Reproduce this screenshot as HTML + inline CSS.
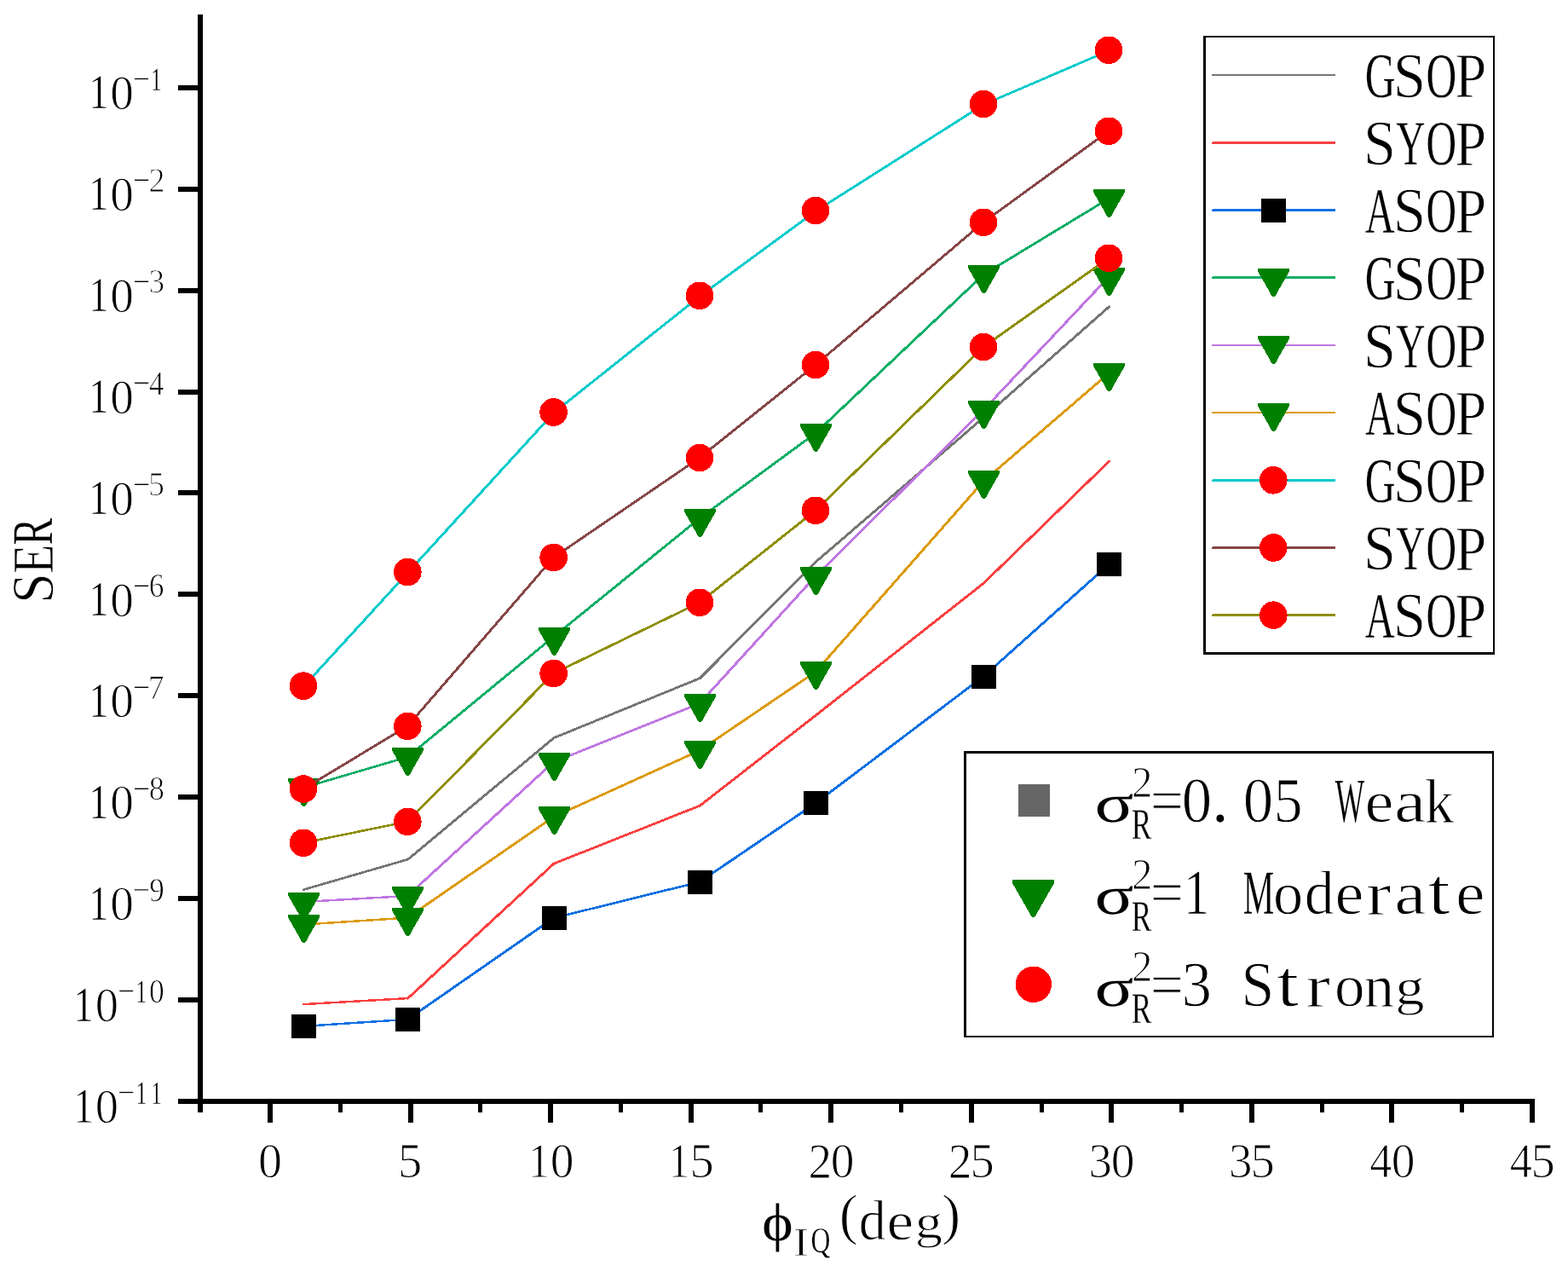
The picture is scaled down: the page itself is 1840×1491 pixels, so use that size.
<!DOCTYPE html>
<html lang="en">
<head>
<meta charset="utf-8">
<title>SER versus φIQ (deg) — GSOP, SYOP, ASOP</title>
<style>
html,body{margin:0;padding:0;background:#fff;}
body{width:1840px;height:1491px;overflow:hidden;font-family:"Liberation Serif","Noto Serif CJK SC",serif;}
svg{display:block;}
svg text{font-family:"Liberation Serif","Noto Serif CJK SC",serif;fill:#000;white-space:pre;stroke:#fff;stroke-width:0.9;stroke-linejoin:round;text-rendering:geometricPrecision;}
.ax{fill:#000;shape-rendering:crispEdges;}
.ln{fill:none;stroke-linecap:round;shape-rendering:crispEdges;}
.mk{shape-rendering:crispEdges;}
</style>
</head>
<body>
<svg width="1840" height="1491" viewBox="0 0 1840 1491" role="img" aria-label="SER versus phase imbalance chart">
<desc>SER versus φIQ(deg). Curves: GSOP, SYOP, ASOP. σR2=0.05 Weak, σR2=1 Moderate, σR2=3 Strong.</desc>
<rect width="1840" height="1491" fill="#fff"/>
<g class="ax">
<rect x="232" y="17" width="6" height="1288"/>
<rect x="209" y="1289" width="1592" height="6"/>
<rect x="209" y="100" width="24" height="6"/>
<rect x="209" y="219" width="24" height="6"/>
<rect x="209" y="338" width="24" height="6"/>
<rect x="209" y="457" width="24" height="6"/>
<rect x="209" y="575" width="24" height="6"/>
<rect x="209" y="694" width="24" height="6"/>
<rect x="209" y="813" width="24" height="6"/>
<rect x="209" y="932" width="24" height="6"/>
<rect x="209" y="1051" width="24" height="6"/>
<rect x="209" y="1170" width="24" height="6"/>
<rect x="209" y="1289" width="24" height="6"/>
<rect x="314" y="1294" width="6" height="23"/>
<rect x="479" y="1294" width="6" height="23"/>
<rect x="643" y="1294" width="6" height="23"/>
<rect x="808" y="1294" width="6" height="23"/>
<rect x="972" y="1294" width="6" height="23"/>
<rect x="1137" y="1294" width="6" height="23"/>
<rect x="1301" y="1294" width="6" height="23"/>
<rect x="1466" y="1294" width="6" height="23"/>
<rect x="1630" y="1294" width="6" height="23"/>
<rect x="1795" y="1294" width="6" height="23"/>
<rect x="397" y="1294" width="5" height="11"/>
<rect x="561" y="1294" width="5" height="11"/>
<rect x="726" y="1294" width="5" height="11"/>
<rect x="890" y="1294" width="5" height="11"/>
<rect x="1055" y="1294" width="5" height="11"/>
<rect x="1220" y="1294" width="5" height="11"/>
<rect x="1384" y="1294" width="5" height="11"/>
<rect x="1549" y="1294" width="5" height="11"/>
<rect x="1713" y="1294" width="5" height="11"/>
</g>
<g id="curves">
<g class="ln" stroke="#757575"><line x1="356.4" y1="1043.6" x2="478.7" y2="1008.1" stroke-width="2.69"/><line x1="478.7" y1="1008.1" x2="650" y2="865.6" stroke-width="2.94"/><line x1="650" y1="865.6" x2="821.4" y2="795.6" stroke-width="2.79"/><line x1="821.4" y1="795.6" x2="957.4" y2="659.1" stroke-width="2.95"/><line x1="957.4" y1="659.1" x2="1154.4" y2="489.6" stroke-width="2.94"/><line x1="1154.4" y1="489.6" x2="1301.4" y2="359.9" stroke-width="2.95"/></g>
<g class="ln" stroke="#fa4040"><line x1="356.4" y1="1178.1" x2="478.7" y2="1171.1" stroke-width="2.46"/><line x1="478.7" y1="1171.1" x2="650" y2="1013.1" stroke-width="2.95"/><line x1="650" y1="1013.1" x2="821.4" y2="945.1" stroke-width="2.78"/><line x1="821.4" y1="945.1" x2="957.4" y2="839.1" stroke-width="2.93"/><line x1="957.4" y1="839.1" x2="1154.4" y2="684.1" stroke-width="2.93"/><line x1="1154.4" y1="684.1" x2="1301.4" y2="541.3" stroke-width="2.95"/></g>
<g class="ln" stroke="#0a70e2"><line x1="356" y1="1203.9" x2="478.3" y2="1195.9" stroke-width="2.47"/><line x1="478.3" y1="1195.9" x2="649.6" y2="1077" stroke-width="2.92"/><line x1="649.6" y1="1077" x2="821" y2="1034.6" stroke-width="2.66"/><line x1="821" y1="1034.6" x2="957" y2="942.3" stroke-width="2.91"/><line x1="957" y1="942.3" x2="1154" y2="793.6" stroke-width="2.93"/><line x1="1154" y1="793.6" x2="1301" y2="662.3" stroke-width="2.95"/></g>
<g class="mk"><rect x="342" y="1190" width="29" height="28" fill="#000"/><rect x="464" y="1182" width="29" height="28" fill="#000"/><rect x="636" y="1063" width="29" height="28" fill="#000"/><rect x="807" y="1021" width="29" height="28" fill="#000"/><rect x="943" y="928" width="29" height="28" fill="#000"/><rect x="1140" y="780" width="29" height="28" fill="#000"/><rect x="1287" y="648" width="29" height="28" fill="#000"/></g>
<g class="ln" stroke="#10ae68"><line x1="356" y1="924" x2="478.3" y2="888" stroke-width="2.7"/><line x1="478.3" y1="888" x2="649.6" y2="747" stroke-width="2.94"/><line x1="649.6" y1="747" x2="821" y2="608" stroke-width="2.94"/><line x1="821" y1="608" x2="957" y2="508.2" stroke-width="2.92"/><line x1="957" y1="508.2" x2="1154" y2="322.2" stroke-width="2.95"/><line x1="1154" y1="322.2" x2="1301" y2="233" stroke-width="2.89"/></g>
<g class="mk"><path d="M338 913h37v3.2l-16.9 29.8h-3.2l-16.9 -29.8z" fill="#008000"/><path d="M460 877h37v3.2l-16.9 29.8h-3.2l-16.9 -29.8z" fill="#008000"/><path d="M632 736h37v3.2l-16.9 29.8h-3.2l-16.9 -29.8z" fill="#008000"/><path d="M803 597h37v3.2l-16.9 29.8h-3.2l-16.9 -29.8z" fill="#008000"/><path d="M939 497h37v3.2l-16.9 29.8h-3.2l-16.9 -29.8z" fill="#008000"/><path d="M1136 311h37v3.2l-16.9 29.8h-3.2l-16.9 -29.8z" fill="#008000"/><path d="M1283 222h37v3.2l-16.9 29.8h-3.2l-16.9 -29.8z" fill="#008000"/></g>
<g class="ln" stroke="#c076e2"><line x1="356" y1="1058" x2="478.3" y2="1051" stroke-width="2.46"/><line x1="478.3" y1="1051" x2="649.6" y2="894" stroke-width="2.95"/><line x1="649.6" y1="894" x2="821" y2="825.2" stroke-width="2.78"/><line x1="821" y1="825.2" x2="957" y2="676" stroke-width="2.95"/><line x1="957" y1="676" x2="1154" y2="481" stroke-width="2.95"/><line x1="1154" y1="481" x2="1301" y2="325" stroke-width="2.95"/></g>
<g class="mk"><path d="M338 1047h37v3.2l-16.9 29.8h-3.2l-16.9 -29.8z" fill="#008000"/><path d="M460 1040h37v3.2l-16.9 29.8h-3.2l-16.9 -29.8z" fill="#008000"/><path d="M632 883h37v3.2l-16.9 29.8h-3.2l-16.9 -29.8z" fill="#008000"/><path d="M803 814h37v3.2l-16.9 29.8h-3.2l-16.9 -29.8z" fill="#008000"/><path d="M939 665h37v3.2l-16.9 29.8h-3.2l-16.9 -29.8z" fill="#008000"/><path d="M1136 470h37v3.2l-16.9 29.8h-3.2l-16.9 -29.8z" fill="#008000"/><path d="M1283 314h37v3.2l-16.9 29.8h-3.2l-16.9 -29.8z" fill="#008000"/></g>
<g class="ln" stroke="#dc9a0a"><line x1="356" y1="1084.6" x2="478.3" y2="1076.6" stroke-width="2.47"/><line x1="478.3" y1="1076.6" x2="649.6" y2="958.3" stroke-width="2.91"/><line x1="649.6" y1="958.3" x2="821" y2="880.4" stroke-width="2.81"/><line x1="821" y1="880.4" x2="957" y2="788.2" stroke-width="2.91"/><line x1="957" y1="788.2" x2="1154" y2="564.6" stroke-width="2.95"/><line x1="1154" y1="564.6" x2="1301" y2="438" stroke-width="2.94"/></g>
<g class="mk"><path d="M338 1073h37v3.2l-16.9 29.8h-3.2l-16.9 -29.8z" fill="#008000"/><path d="M460 1065h37v3.2l-16.9 29.8h-3.2l-16.9 -29.8z" fill="#008000"/><path d="M632 946h37v3.2l-16.9 29.8h-3.2l-16.9 -29.8z" fill="#008000"/><path d="M803 869h37v3.2l-16.9 29.8h-3.2l-16.9 -29.8z" fill="#008000"/><path d="M939 776h37v3.2l-16.9 29.8h-3.2l-16.9 -29.8z" fill="#008000"/><path d="M1136 552h37v3.2l-16.9 29.8h-3.2l-16.9 -29.8z" fill="#008000"/><path d="M1283 426h37v3.2l-16.9 29.8h-3.2l-16.9 -29.8z" fill="#008000"/></g>
<g class="ln" stroke="#02cbcb"><line x1="356.4" y1="805.2" x2="478.7" y2="671.6" stroke-width="2.95"/><line x1="478.7" y1="671.6" x2="650" y2="484.1" stroke-width="2.95"/><line x1="650" y1="484.1" x2="821.4" y2="347.4" stroke-width="2.94"/><line x1="821.4" y1="347.4" x2="957.4" y2="247.6" stroke-width="2.92"/><line x1="957.4" y1="247.6" x2="1154.4" y2="122.6" stroke-width="2.9"/><line x1="1154.4" y1="122.6" x2="1301.4" y2="59.4" stroke-width="2.8"/></g>
<g class="mk"><circle cx="356" cy="804.6" r="16.3" fill="#f00"/><circle cx="478.3" cy="671" r="16.3" fill="#f00"/><circle cx="649.6" cy="483.5" r="16.3" fill="#f00"/><circle cx="821" cy="346.8" r="16.3" fill="#f00"/><circle cx="957" cy="247" r="16.3" fill="#f00"/><circle cx="1154" cy="122" r="16.3" fill="#f00"/><circle cx="1301" cy="58.8" r="16.3" fill="#f00"/></g>
<g class="ln" stroke="#864646"><line x1="356" y1="925.5" x2="478.3" y2="851.8" stroke-width="2.89"/><line x1="478.3" y1="851.8" x2="649.6" y2="654" stroke-width="2.94"/><line x1="649.6" y1="654" x2="821" y2="537" stroke-width="2.91"/><line x1="821" y1="537" x2="957" y2="428" stroke-width="2.94"/><line x1="957" y1="428" x2="1154" y2="260.8" stroke-width="2.94"/><line x1="1154" y1="260.8" x2="1301" y2="153.8" stroke-width="2.92"/></g>
<g class="mk"><circle cx="356" cy="925.5" r="16.3" fill="#f00"/><circle cx="478.3" cy="851.8" r="16.3" fill="#f00"/><circle cx="649.6" cy="654" r="16.3" fill="#f00"/><circle cx="821" cy="537" r="16.3" fill="#f00"/><circle cx="957" cy="428" r="16.3" fill="#f00"/><circle cx="1154" cy="260.8" r="16.3" fill="#f00"/><circle cx="1301" cy="153.8" r="16.3" fill="#f00"/></g>
<g class="ln" stroke="#8e8e00"><line x1="356" y1="988.8" x2="478.3" y2="963.8" stroke-width="2.62"/><line x1="478.3" y1="963.8" x2="649.6" y2="790" stroke-width="2.95"/><line x1="649.6" y1="790" x2="821" y2="706.8" stroke-width="2.83"/><line x1="821" y1="706.8" x2="957" y2="598.8" stroke-width="2.94"/><line x1="957" y1="598.8" x2="1154" y2="407" stroke-width="2.95"/><line x1="1154" y1="407" x2="1301" y2="302.8" stroke-width="2.92"/></g>
<g class="mk"><circle cx="356" cy="988.8" r="16.3" fill="#f00"/><circle cx="478.3" cy="963.8" r="16.3" fill="#f00"/><circle cx="649.6" cy="790" r="16.3" fill="#f00"/><circle cx="821" cy="706.8" r="16.3" fill="#f00"/><circle cx="957" cy="598.8" r="16.3" fill="#f00"/><circle cx="1154" cy="407" r="16.3" fill="#f00"/><circle cx="1301" cy="302.8" r="16.3" fill="#f00"/></g>
</g>
<g id="yticks">
<text><tspan x="104.29" y="127.31" font-size="57.38" textLength="23.29" lengthAdjust="spacingAndGlyphs" stroke-width="0.64">1</tspan><tspan x="129.27" y="127.8" font-size="56.77" textLength="27.68" lengthAdjust="spacingAndGlyphs" stroke-width="1">0</tspan><tspan x="154.26" y="100.14" font-size="31.96" textLength="23.47" lengthAdjust="spacingAndGlyphs" stroke-width="1">-</tspan><tspan x="177.34" y="105.72" font-size="38.12" textLength="12.38" lengthAdjust="spacingAndGlyphs" stroke-width="0.3">1</tspan></text>
<text><tspan x="104.29" y="246.32" font-size="57.38" textLength="23.29" lengthAdjust="spacingAndGlyphs" stroke-width="0.64">1</tspan><tspan x="129.27" y="247.23" font-size="56.72" textLength="27.67" lengthAdjust="spacingAndGlyphs" stroke-width="1">0</tspan><tspan x="154.19" y="219.4" font-size="32.73" textLength="23.62" lengthAdjust="spacingAndGlyphs" stroke-width="1">-</tspan><tspan x="174.59" y="225.02" font-size="40.57" textLength="19.08" lengthAdjust="spacingAndGlyphs" stroke-width="0.98">2</tspan></text>
<text><tspan x="104.26" y="365.02" font-size="57.37" textLength="23.36" lengthAdjust="spacingAndGlyphs" stroke-width="0.66">1</tspan><tspan x="129.27" y="365.52" font-size="56.77" textLength="27.68" lengthAdjust="spacingAndGlyphs" stroke-width="1">0</tspan><tspan x="154.27" y="337.79" font-size="32.69" textLength="23.62" lengthAdjust="spacingAndGlyphs" stroke-width="1">-</tspan><tspan x="174.38" y="342.89" font-size="39.37" textLength="18.6" lengthAdjust="spacingAndGlyphs" stroke-width="0.96">3</tspan></text>
<text><tspan x="104.3" y="484.44" font-size="57.42" textLength="23.31" lengthAdjust="spacingAndGlyphs" stroke-width="0.64">1</tspan><tspan x="129.26" y="484.82" font-size="56.78" textLength="27.66" lengthAdjust="spacingAndGlyphs" stroke-width="1">0</tspan><tspan x="154.18" y="457.1" font-size="32.69" textLength="23.63" lengthAdjust="spacingAndGlyphs" stroke-width="1">-</tspan><tspan x="174.89" y="462.57" font-size="39.52" textLength="17.34" lengthAdjust="spacingAndGlyphs" stroke-width="0.7">4</tspan></text>
<text><tspan x="104.3" y="603.23" font-size="57.42" textLength="23.31" lengthAdjust="spacingAndGlyphs" stroke-width="0.64">1</tspan><tspan x="129.26" y="603.74" font-size="56.78" textLength="27.66" lengthAdjust="spacingAndGlyphs" stroke-width="1">0</tspan><tspan x="154.18" y="575.59" font-size="32.69" textLength="23.63" lengthAdjust="spacingAndGlyphs" stroke-width="1">-</tspan><tspan x="174.1" y="581.12" font-size="39.78" textLength="19.01" lengthAdjust="spacingAndGlyphs" stroke-width="1">5</tspan></text>
<text><tspan x="104.7" y="722.12" font-size="57.51" textLength="22.64" lengthAdjust="spacingAndGlyphs" stroke-width="0.5">1</tspan><tspan x="129.36" y="722.55" font-size="56.65" textLength="27.68" lengthAdjust="spacingAndGlyphs" stroke-width="1">0</tspan><tspan x="154.18" y="694.64" font-size="32.74" textLength="23.64" lengthAdjust="spacingAndGlyphs" stroke-width="1">-</tspan><tspan x="174.85" y="700.2" font-size="39.37" textLength="17.74" lengthAdjust="spacingAndGlyphs" stroke-width="0.79">6</tspan></text>
<text><tspan x="104.7" y="840.69" font-size="57.57" textLength="22.59" lengthAdjust="spacingAndGlyphs" stroke-width="0.49">1</tspan><tspan x="129.35" y="841.31" font-size="56.58" textLength="27.71" lengthAdjust="spacingAndGlyphs" stroke-width="1">0</tspan><tspan x="154.27" y="813.64" font-size="32.69" textLength="23.62" lengthAdjust="spacingAndGlyphs" stroke-width="1">-</tspan><tspan x="173.73" y="819.87" font-size="40.64" textLength="18.76" lengthAdjust="spacingAndGlyphs" stroke-width="0.91">7</tspan></text>
<text><tspan x="104.83" y="959.63" font-size="57.42" textLength="22.4" lengthAdjust="spacingAndGlyphs" stroke-width="0.46">1</tspan><tspan x="129.35" y="960.07" font-size="56.58" textLength="27.71" lengthAdjust="spacingAndGlyphs" stroke-width="1">0</tspan><tspan x="154.15" y="932.81" font-size="32.73" textLength="23.64" lengthAdjust="spacingAndGlyphs" stroke-width="1">-</tspan><tspan x="174.8" y="937.87" font-size="39.3" textLength="18.16" lengthAdjust="spacingAndGlyphs" stroke-width="0.88">8</tspan></text>
<text><tspan x="104.78" y="1078.75" font-size="57.46" textLength="22.43" lengthAdjust="spacingAndGlyphs" stroke-width="0.46">1</tspan><tspan x="129.35" y="1079.05" font-size="56.58" textLength="27.71" lengthAdjust="spacingAndGlyphs" stroke-width="1">0</tspan><tspan x="154.09" y="1050.88" font-size="30.06" textLength="23.85" lengthAdjust="spacingAndGlyphs" stroke-width="1">-</tspan><tspan x="175.16" y="1057.31" font-size="39.23" textLength="17.55" lengthAdjust="spacingAndGlyphs" stroke-width="0.77">9</tspan></text>
<text><tspan x="86.69" y="1197.53" font-size="57.77" textLength="22.89" lengthAdjust="spacingAndGlyphs" stroke-width="0.53">1</tspan><tspan x="111.77" y="1197.99" font-size="56.49" textLength="27.32" lengthAdjust="spacingAndGlyphs" stroke-width="1">0</tspan><tspan x="136.5" y="1170.15" font-size="31.96" textLength="23.4" lengthAdjust="spacingAndGlyphs" stroke-width="1">-</tspan><tspan x="159.55" y="1175.7" font-size="37.95" textLength="12.49" lengthAdjust="spacingAndGlyphs" stroke-width="0.3">1</tspan><tspan x="174.89" y="1175.96" font-size="39.43" textLength="17.75" lengthAdjust="spacingAndGlyphs" stroke-width="0.79">0</tspan></text>
<text><tspan x="85.97" y="1316.84" font-size="58.27" textLength="24.23" lengthAdjust="spacingAndGlyphs" stroke-width="0.77">1</tspan><tspan x="111.77" y="1316.78" font-size="56.49" textLength="27.32" lengthAdjust="spacingAndGlyphs" stroke-width="1">0</tspan><tspan x="136.49" y="1288.94" font-size="31.96" textLength="23.51" lengthAdjust="spacingAndGlyphs" stroke-width="1">-</tspan><tspan x="159.55" y="1294.81" font-size="38.13" textLength="12.77" lengthAdjust="spacingAndGlyphs" stroke-width="0.3">1</tspan><tspan x="177.45" y="1294.75" font-size="38.05" textLength="12.21" lengthAdjust="spacingAndGlyphs" stroke-width="0.3">1</tspan></text>
</g>
<g id="xticks">
<text><tspan x="303.11" y="1381.1" font-size="57.15" textLength="28.08" lengthAdjust="spacingAndGlyphs" stroke-width="1">0</tspan></text>
<text><tspan x="467.03" y="1381.17" font-size="58.1" textLength="28.27" lengthAdjust="spacingAndGlyphs" stroke-width="1">5</tspan></text>
<text><tspan x="620.27" y="1381.27" font-size="57.18" textLength="24.51" lengthAdjust="spacingAndGlyphs" stroke-width="0.9">1</tspan><tspan x="645.65" y="1380.72" font-size="57.11" textLength="27.79" lengthAdjust="spacingAndGlyphs" stroke-width="1">0</tspan></text>
<text><tspan x="784.78" y="1381.34" font-size="57.18" textLength="24.44" lengthAdjust="spacingAndGlyphs" stroke-width="0.88">1</tspan><tspan x="809.44" y="1380.95" font-size="58.11" textLength="28.3" lengthAdjust="spacingAndGlyphs" stroke-width="1">5</tspan></text>
<text><tspan x="948.46" y="1381.62" font-size="58.42" textLength="27.64" lengthAdjust="spacingAndGlyphs" stroke-width="1">2</tspan><tspan x="974.65" y="1380.72" font-size="57.11" textLength="27.79" lengthAdjust="spacingAndGlyphs" stroke-width="1">0</tspan></text>
<text><tspan x="1112.86" y="1381.79" font-size="58.4" textLength="27.76" lengthAdjust="spacingAndGlyphs" stroke-width="1">2</tspan><tspan x="1138.44" y="1380.95" font-size="58.11" textLength="28.3" lengthAdjust="spacingAndGlyphs" stroke-width="1">5</tspan></text>
<text><tspan x="1277.58" y="1380.5" font-size="57.38" textLength="27.42" lengthAdjust="spacingAndGlyphs" stroke-width="1">3</tspan><tspan x="1303.65" y="1380.72" font-size="57.11" textLength="27.79" lengthAdjust="spacingAndGlyphs" stroke-width="1">0</tspan></text>
<text><tspan x="1442.06" y="1380.98" font-size="57.42" textLength="27.43" lengthAdjust="spacingAndGlyphs" stroke-width="1">3</tspan><tspan x="1467.44" y="1380.95" font-size="58.11" textLength="28.3" lengthAdjust="spacingAndGlyphs" stroke-width="1">5</tspan></text>
<text><tspan x="1607.3" y="1380.84" font-size="57.32" textLength="26.22" lengthAdjust="spacingAndGlyphs" stroke-width="1">4</tspan><tspan x="1632.65" y="1380.72" font-size="57.11" textLength="27.79" lengthAdjust="spacingAndGlyphs" stroke-width="1">0</tspan></text>
<text><tspan x="1771.86" y="1380.74" font-size="57.05" textLength="26.1" lengthAdjust="spacingAndGlyphs" stroke-width="1">4</tspan><tspan x="1796.44" y="1380.95" font-size="58.11" textLength="28.3" lengthAdjust="spacingAndGlyphs" stroke-width="1">5</tspan></text>
</g>
<g id="titles">
<text transform="rotate(-90)"><tspan x="-707.78" y="61.87" font-size="69.87" textLength="35.34" lengthAdjust="spacingAndGlyphs" stroke-width="1">S</tspan><tspan x="-673.3" y="61.68" font-size="68.78" textLength="34.61" lengthAdjust="spacingAndGlyphs" stroke-width="0.85">E</tspan><tspan x="-639.58" y="61.1" font-size="67.74" textLength="31.88" lengthAdjust="spacingAndGlyphs" stroke-width="0.3">R</tspan></text>
<text><tspan x="894.38" y="1455.18" font-size="62.82" textLength="36.39" lengthAdjust="spacingAndGlyphs" stroke-width="0">ϕ</tspan><tspan x="930.59" y="1472.67" font-size="47.6" textLength="19.02" lengthAdjust="spacingAndGlyphs" stroke-width="1">I</tspan><tspan x="951.44" y="1469" font-size="42.12" textLength="22.85" lengthAdjust="spacingAndGlyphs" stroke-width="0.3">Q</tspan><tspan x="984.78" y="1447.11" font-size="66.66" textLength="22.22" lengthAdjust="spacingAndGlyphs" stroke-width="1">(</tspan><tspan x="1007.86" y="1454.23" font-size="66.74" textLength="31.93" lengthAdjust="spacingAndGlyphs" stroke-width="1">d</tspan><tspan x="1040.51" y="1454.44" font-size="63.93" textLength="31.66" lengthAdjust="spacingAndGlyphs" stroke-width="1">e</tspan><tspan x="1073.7" y="1452.17" font-size="55.66" textLength="32.31" lengthAdjust="spacingAndGlyphs" stroke-width="1">g</tspan><tspan x="1105.01" y="1447.32" font-size="66.7" textLength="22.16" lengthAdjust="spacingAndGlyphs" stroke-width="1">)</tspan></text>
</g>
<g id="legend1">
<g class="ax"><rect x="1412" y="42" width="3" height="726"/><rect x="1412" y="42" width="342" height="2"/><rect x="1752" y="42" width="2" height="726"/><rect x="1412" y="765" width="342" height="3"/></g>
<rect x="1422" y="87" width="145" height="2" fill="#757575" shape-rendering="crispEdges"/>
<text><tspan x="1601.8" y="113.94" font-size="74.67" textLength="35.8" lengthAdjust="spacingAndGlyphs" stroke-width="0.3">G</tspan><tspan x="1634.72" y="114.04" font-size="75.24" textLength="38.43" lengthAdjust="spacingAndGlyphs" stroke-width="1">S</tspan><tspan x="1673.48" y="114.31" font-size="74.45" textLength="35.79" lengthAdjust="spacingAndGlyphs" stroke-width="0.3">O</tspan><tspan x="1707.17" y="114.38" font-size="75.02" textLength="37.19" lengthAdjust="spacingAndGlyphs" stroke-width="1">P</tspan></text>
<path d="M1423 166h144v3h-145v-2h1z" fill="#fa4040" shape-rendering="crispEdges"/>
<text><tspan x="1600.08" y="193.37" font-size="75.24" textLength="37.99" lengthAdjust="spacingAndGlyphs" stroke-width="1">S</tspan><tspan x="1638.2" y="193.22" font-size="74.2" textLength="34.09" lengthAdjust="spacingAndGlyphs" stroke-width="0.3">Y</tspan><tspan x="1673.56" y="192.9" font-size="74.41" textLength="35.7" lengthAdjust="spacingAndGlyphs" stroke-width="0.3">O</tspan><tspan x="1707.35" y="193.52" font-size="75.09" textLength="37.06" lengthAdjust="spacingAndGlyphs" stroke-width="1">P</tspan></text>
<path d="M1423 245h144v3h-145v-2h1z" fill="#0a70e2" shape-rendering="crispEdges"/>
<g class="mk"><rect x="1480" y="233" width="29" height="28" fill="#000"/></g>
<text><tspan x="1601.95" y="272.5" font-size="75.62" textLength="34.62" lengthAdjust="spacingAndGlyphs" stroke-width="0.3">A</tspan><tspan x="1634.77" y="272.21" font-size="75.21" textLength="38.46" lengthAdjust="spacingAndGlyphs" stroke-width="1">S</tspan><tspan x="1673.46" y="272.13" font-size="74.15" textLength="35.68" lengthAdjust="spacingAndGlyphs" stroke-width="0.3">O</tspan><tspan x="1707.3" y="272.5" font-size="75.17" textLength="37.09" lengthAdjust="spacingAndGlyphs" stroke-width="1">P</tspan></text>
<path d="M1423 324h144v3h-145v-2h1z" fill="#10ae68" shape-rendering="crispEdges"/>
<g class="mk"><path d="M1476 315h37v3.2l-16.9 29.8h-3.2l-16.9 -29.8z" fill="#008000"/></g>
<text><tspan x="1601.87" y="351.42" font-size="73.94" textLength="35.78" lengthAdjust="spacingAndGlyphs" stroke-width="0.3">G</tspan><tspan x="1634.68" y="351.73" font-size="75.36" textLength="38.53" lengthAdjust="spacingAndGlyphs" stroke-width="1">S</tspan><tspan x="1673.64" y="351.43" font-size="74.01" textLength="35.63" lengthAdjust="spacingAndGlyphs" stroke-width="0.3">O</tspan><tspan x="1707.35" y="351.73" font-size="75.18" textLength="37.09" lengthAdjust="spacingAndGlyphs" stroke-width="1">P</tspan></text>
<rect x="1422" y="404" width="145" height="2" fill="#c076e2" shape-rendering="crispEdges"/>
<g class="mk"><path d="M1476 394h37v3.2l-16.9 29.8h-3.2l-16.9 -29.8z" fill="#008000"/></g>
<text><tspan x="1600.01" y="430.55" font-size="75.43" textLength="38.08" lengthAdjust="spacingAndGlyphs" stroke-width="1">S</tspan><tspan x="1638.27" y="431.23" font-size="74.34" textLength="34.19" lengthAdjust="spacingAndGlyphs" stroke-width="0.3">Y</tspan><tspan x="1673.51" y="430.8" font-size="74.61" textLength="35.76" lengthAdjust="spacingAndGlyphs" stroke-width="0.3">O</tspan><tspan x="1707.21" y="430.8" font-size="74.97" textLength="37.18" lengthAdjust="spacingAndGlyphs" stroke-width="1">P</tspan></text>
<rect x="1422" y="483" width="145" height="2" fill="#dc9a0a" shape-rendering="crispEdges"/>
<g class="mk"><path d="M1476 473h37v3.2l-16.9 29.8h-3.2l-16.9 -29.8z" fill="#008000"/></g>
<text><tspan x="1602.25" y="509.67" font-size="74.65" textLength="34.15" lengthAdjust="spacingAndGlyphs" stroke-width="0.3">A</tspan><tspan x="1634.68" y="509.68" font-size="75.36" textLength="38.53" lengthAdjust="spacingAndGlyphs" stroke-width="1">S</tspan><tspan x="1673.53" y="509.79" font-size="74.41" textLength="35.72" lengthAdjust="spacingAndGlyphs" stroke-width="0.3">O</tspan><tspan x="1707.21" y="510.32" font-size="74.97" textLength="37.18" lengthAdjust="spacingAndGlyphs" stroke-width="1">P</tspan></text>
<path d="M1423 562h144v3h-145v-2h1z" fill="#02cbcb" shape-rendering="crispEdges"/>
<g class="mk"><circle cx="1494.3" cy="563.32" r="16.3" fill="#f00"/></g>
<text><tspan x="1601.87" y="588.58" font-size="74.46" textLength="35.77" lengthAdjust="spacingAndGlyphs" stroke-width="0.3">G</tspan><tspan x="1634.72" y="588.73" font-size="75.24" textLength="38.43" lengthAdjust="spacingAndGlyphs" stroke-width="1">S</tspan><tspan x="1673.52" y="589.26" font-size="74.32" textLength="35.67" lengthAdjust="spacingAndGlyphs" stroke-width="0.3">O</tspan><tspan x="1707.5" y="588.98" font-size="74.33" textLength="36.88" lengthAdjust="spacingAndGlyphs" stroke-width="1">P</tspan></text>
<path d="M1423 641h144v3h-145v-2h1z" fill="#864646" shape-rendering="crispEdges"/>
<g class="mk"><circle cx="1494.3" cy="642.49" r="16.3" fill="#f00"/></g>
<text><tspan x="1600.08" y="668.45" font-size="75.24" textLength="37.99" lengthAdjust="spacingAndGlyphs" stroke-width="1">S</tspan><tspan x="1638.2" y="668.37" font-size="74.2" textLength="34.09" lengthAdjust="spacingAndGlyphs" stroke-width="0.3">Y</tspan><tspan x="1673.48" y="668.24" font-size="74.15" textLength="35.71" lengthAdjust="spacingAndGlyphs" stroke-width="0.3">O</tspan><tspan x="1707.26" y="668.67" font-size="75" textLength="37.2" lengthAdjust="spacingAndGlyphs" stroke-width="1">P</tspan></text>
<path d="M1423 720h144v3h-145v-2h1z" fill="#8e8e00" shape-rendering="crispEdges"/>
<g class="mk"><circle cx="1494.3" cy="721.66" r="16.3" fill="#f00"/></g>
<text><tspan x="1601.95" y="747.56" font-size="75.62" textLength="34.62" lengthAdjust="spacingAndGlyphs" stroke-width="0.3">A</tspan><tspan x="1634.77" y="747.28" font-size="75.21" textLength="38.46" lengthAdjust="spacingAndGlyphs" stroke-width="1">S</tspan><tspan x="1673.46" y="746.84" font-size="74.15" textLength="35.68" lengthAdjust="spacingAndGlyphs" stroke-width="0.3">O</tspan><tspan x="1707.35" y="747.53" font-size="75.18" textLength="37.09" lengthAdjust="spacingAndGlyphs" stroke-width="1">P</tspan></text>
</g>
<g id="legend2">
<g class="ax"><rect x="1131" y="881" width="3" height="336"/><rect x="1131" y="881" width="622" height="3"/><rect x="1751" y="881" width="2" height="336"/><rect x="1131" y="1215" width="622" height="2"/></g>
<g class="mk"><rect x="1195" y="920" width="37" height="38" fill="#666"/><path d="M1187.75 1032h49.5v3.5l-23.1 40.5h-3.3l-23.1 -40.5z" fill="#008000"/><circle cx="1212.8" cy="1154.8" r="21.2" fill="#f00"/></g>
<text><tspan x="1284.51" y="964.13" font-size="63.6" textLength="45.84" lengthAdjust="spacingAndGlyphs" stroke-width="0">σ</tspan><tspan x="1327.95" y="934.94" font-size="51.7" textLength="24.46" lengthAdjust="spacingAndGlyphs" stroke-width="1">2</tspan><tspan x="1327.7" y="983.53" font-size="51.27" textLength="23.52" lengthAdjust="spacingAndGlyphs" stroke-width="0.3">R</tspan><tspan x="1349.69" y="962.65" font-size="71.58" textLength="39.25" lengthAdjust="spacingAndGlyphs" stroke-width="1">=</tspan><tspan x="1386.74" y="964.22" font-size="75.26" textLength="35.35" lengthAdjust="spacingAndGlyphs" stroke-width="1">0</tspan><tspan x="1421.37" y="964.46" font-size="86.15" textLength="21.21" lengthAdjust="spacingAndGlyphs" stroke-width="1">.</tspan><tspan x="1458.73" y="963.97" font-size="75.02" textLength="35.43" lengthAdjust="spacingAndGlyphs" stroke-width="1">0</tspan><tspan x="1494.82" y="964.48" font-size="74.71" textLength="33.83" lengthAdjust="spacingAndGlyphs" stroke-width="1">5</tspan><tspan font-size="20"> </tspan><tspan x="1566.87" y="963.64" font-size="73.48" textLength="34.34" lengthAdjust="spacingAndGlyphs" stroke-width="0.3">W</tspan><tspan x="1601.63" y="964.3" font-size="69.76" textLength="33.97" lengthAdjust="spacingAndGlyphs" stroke-width="1">e</tspan><tspan x="1636.02" y="963.87" font-size="70.49" textLength="37.43" lengthAdjust="spacingAndGlyphs" stroke-width="1">a</tspan><tspan x="1671.68" y="964.67" font-size="73.75" textLength="34.49" lengthAdjust="spacingAndGlyphs" stroke-width="1">k</tspan></text>
<text><tspan x="1284.48" y="1072.4" font-size="63.72" textLength="45.85" lengthAdjust="spacingAndGlyphs" stroke-width="0">σ</tspan><tspan x="1327.88" y="1042.78" font-size="51.62" textLength="24.51" lengthAdjust="spacingAndGlyphs" stroke-width="1">2</tspan><tspan x="1327.75" y="1091.52" font-size="51.28" textLength="23.53" lengthAdjust="spacingAndGlyphs" stroke-width="0.3">R</tspan><tspan x="1349.76" y="1071.26" font-size="71.99" textLength="39.27" lengthAdjust="spacingAndGlyphs" stroke-width="1">=</tspan><tspan x="1388.95" y="1072.04" font-size="75.12" textLength="29.98" lengthAdjust="spacingAndGlyphs" stroke-width="0.74">1</tspan><tspan font-size="20"> </tspan><tspan x="1458.73" y="1072" font-size="73.85" textLength="36.52" lengthAdjust="spacingAndGlyphs" stroke-width="0.3">M</tspan><tspan x="1493.89" y="1072.29" font-size="71.38" textLength="35.14" lengthAdjust="spacingAndGlyphs" stroke-width="1">o</tspan><tspan x="1530.85" y="1072.08" font-size="73.23" textLength="34.92" lengthAdjust="spacingAndGlyphs" stroke-width="1">d</tspan><tspan x="1566.41" y="1072.38" font-size="71.32" textLength="33.87" lengthAdjust="spacingAndGlyphs" stroke-width="1">e</tspan><tspan x="1603.15" y="1072.51" font-size="72.87" textLength="29.12" lengthAdjust="spacingAndGlyphs" stroke-width="1">r</tspan><tspan x="1636.24" y="1071.99" font-size="71.52" textLength="37.13" lengthAdjust="spacingAndGlyphs" stroke-width="1">a</tspan><tspan x="1675.85" y="1071.94" font-size="77.6" textLength="25.87" lengthAdjust="spacingAndGlyphs" stroke-width="1">t</tspan><tspan x="1708.38" y="1072.17" font-size="71.32" textLength="34.22" lengthAdjust="spacingAndGlyphs" stroke-width="1">e</tspan></text>
<text><tspan x="1284.51" y="1180.13" font-size="63.6" textLength="45.84" lengthAdjust="spacingAndGlyphs" stroke-width="0">σ</tspan><tspan x="1327.95" y="1150.93" font-size="51.7" textLength="24.46" lengthAdjust="spacingAndGlyphs" stroke-width="1">2</tspan><tspan x="1327.7" y="1199.53" font-size="51.27" textLength="23.52" lengthAdjust="spacingAndGlyphs" stroke-width="0.3">R</tspan><tspan x="1349.69" y="1178.65" font-size="71.58" textLength="39.25" lengthAdjust="spacingAndGlyphs" stroke-width="1">=</tspan><tspan x="1386.87" y="1180.12" font-size="75.12" textLength="35.1" lengthAdjust="spacingAndGlyphs" stroke-width="1">3</tspan><tspan font-size="20"> </tspan><tspan x="1456.53" y="1180.39" font-size="75.01" textLength="38.8" lengthAdjust="spacingAndGlyphs" stroke-width="1">S</tspan><tspan x="1498.15" y="1180.08" font-size="77.62" textLength="25.88" lengthAdjust="spacingAndGlyphs" stroke-width="1">t</tspan><tspan x="1532.33" y="1180.82" font-size="71.97" textLength="28.76" lengthAdjust="spacingAndGlyphs" stroke-width="1">r</tspan><tspan x="1566.06" y="1179.94" font-size="70.02" textLength="35.5" lengthAdjust="spacingAndGlyphs" stroke-width="1">o</tspan><tspan x="1600.58" y="1180.65" font-size="71.43" textLength="35.72" lengthAdjust="spacingAndGlyphs" stroke-width="1">n</tspan><tspan x="1637.28" y="1177.98" font-size="60.75" textLength="34.32" lengthAdjust="spacingAndGlyphs" stroke-width="1">g</tspan></text>
</g>
</svg>
</body>
</html>
